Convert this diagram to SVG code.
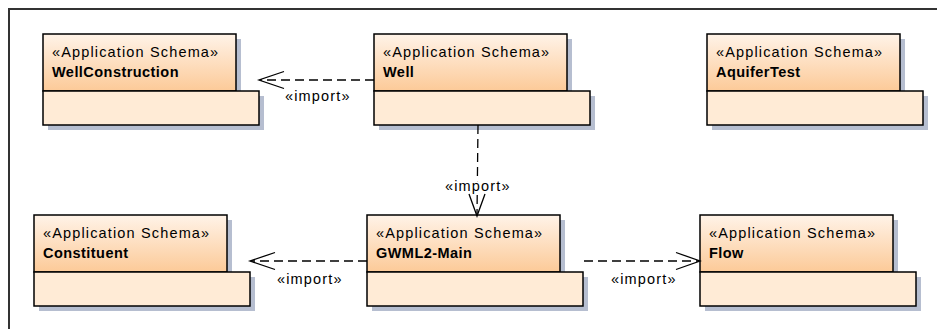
<svg xmlns="http://www.w3.org/2000/svg" width="937" height="329" viewBox="0 0 937 329">
<defs>
<linearGradient id="tabfill" x1="0" y1="0" x2="0" y2="1">
<stop offset="0" stop-color="#fff3e8"/>
<stop offset="1" stop-color="#fcca98"/>
</linearGradient>
<style>
.shadow{fill:#b6bed0;stroke:none}
.tab{fill:url(#tabfill);stroke:#000;stroke-width:1.5}
.body{fill:#ffebd6;stroke:#000;stroke-width:1.5}
.st{font-family:"Liberation Sans",Arial,sans-serif;font-size:14.5px;letter-spacing:1.15px;fill:#000}
.nm{font-family:"Liberation Sans",Arial,sans-serif;font-size:14.5px;font-weight:bold;letter-spacing:0.45px;fill:#000}
.lbl{font-family:"Liberation Sans",Arial,sans-serif;font-size:14.5px;letter-spacing:1.15px;fill:#000}
.dash{fill:none;stroke:#000;stroke-width:1.3;stroke-dasharray:9,5}
.head{fill:none;stroke:#000;stroke-width:1.3}
.frame{fill:none;stroke:#333;stroke-width:2}
</style>
</defs>
<rect class="frame" x="9" y="9" width="940" height="340"/>
<g id="WellConstruction">
<rect class="shadow" x="48" y="39" width="193" height="57"/>
<rect class="shadow" x="48" y="96" width="216" height="34"/>
<rect class="tab" x="43" y="34" width="193" height="57"/>
<rect class="body" x="43" y="91" width="216" height="34"/>
<text class="st" x="52" y="56.5">«Application Schema»</text>
<text class="nm" x="52" y="76.5">WellConstruction</text>
</g>
<g id="Well">
<rect class="shadow" x="379" y="39" width="193" height="57"/>
<rect class="shadow" x="379" y="96" width="216" height="34"/>
<rect class="tab" x="374" y="34" width="193" height="57"/>
<rect class="body" x="374" y="91" width="216" height="34"/>
<text class="st" x="383" y="56.5">«Application Schema»</text>
<text class="nm" x="383" y="76.5">Well</text>
</g>
<g id="AquiferTest">
<rect class="shadow" x="712" y="39" width="193" height="57"/>
<rect class="shadow" x="712" y="96" width="216" height="34"/>
<rect class="tab" x="707" y="34" width="193" height="57"/>
<rect class="body" x="707" y="91" width="216" height="34"/>
<text class="st" x="716" y="56.5">«Application Schema»</text>
<text class="nm" x="716" y="76.5">AquiferTest</text>
</g>
<g id="Constituent">
<rect class="shadow" x="39" y="220" width="193" height="57"/>
<rect class="shadow" x="39" y="277" width="216" height="34"/>
<rect class="tab" x="34" y="215" width="193" height="57"/>
<rect class="body" x="34" y="272" width="216" height="34"/>
<text class="st" x="43" y="237.5">«Application Schema»</text>
<text class="nm" x="43" y="257.5">Constituent</text>
</g>
<g id="GWML2-Main">
<rect class="shadow" x="372" y="220" width="193" height="57"/>
<rect class="shadow" x="372" y="277" width="216" height="34"/>
<rect class="tab" x="367" y="215" width="193" height="57"/>
<rect class="body" x="367" y="272" width="216" height="34"/>
<text class="st" x="376" y="237.5">«Application Schema»</text>
<text class="nm" x="376" y="257.5">GWML2-Main</text>
</g>
<g id="Flow">
<rect class="shadow" x="705" y="220" width="193" height="57"/>
<rect class="shadow" x="705" y="277" width="216" height="34"/>
<rect class="tab" x="700" y="215" width="193" height="57"/>
<rect class="body" x="700" y="272" width="216" height="34"/>
<text class="st" x="709" y="237.5">«Application Schema»</text>
<text class="nm" x="709" y="257.5">Flow</text>
</g>
<g id="connectors">
<path class="dash" d="M374,80 H260"/>
<path class="head" d="M284,71.5 L259,80 L284,88.5"/>
<text class="lbl" x="285" y="101">«import»</text>
<path class="dash" d="M478,125 L477,215"/>
<path class="head" d="M469,194 L477,216 L485,194"/>
<text class="lbl" x="445" y="191" stroke="#fff" stroke-width="4" paint-order="stroke" stroke-linejoin="round">«import»</text>
<path class="dash" d="M367,261 H251"/>
<path class="head" d="M275,252.5 L250,261 L275,269.5"/>
<text class="lbl" x="277" y="284">«import»</text>
<path class="dash" d="M584,261 H699"/>
<path class="head" d="M676,252.5 L700,261 L676,269.5"/>
<text class="lbl" x="611" y="284">«import»</text>
</g>
</svg>
